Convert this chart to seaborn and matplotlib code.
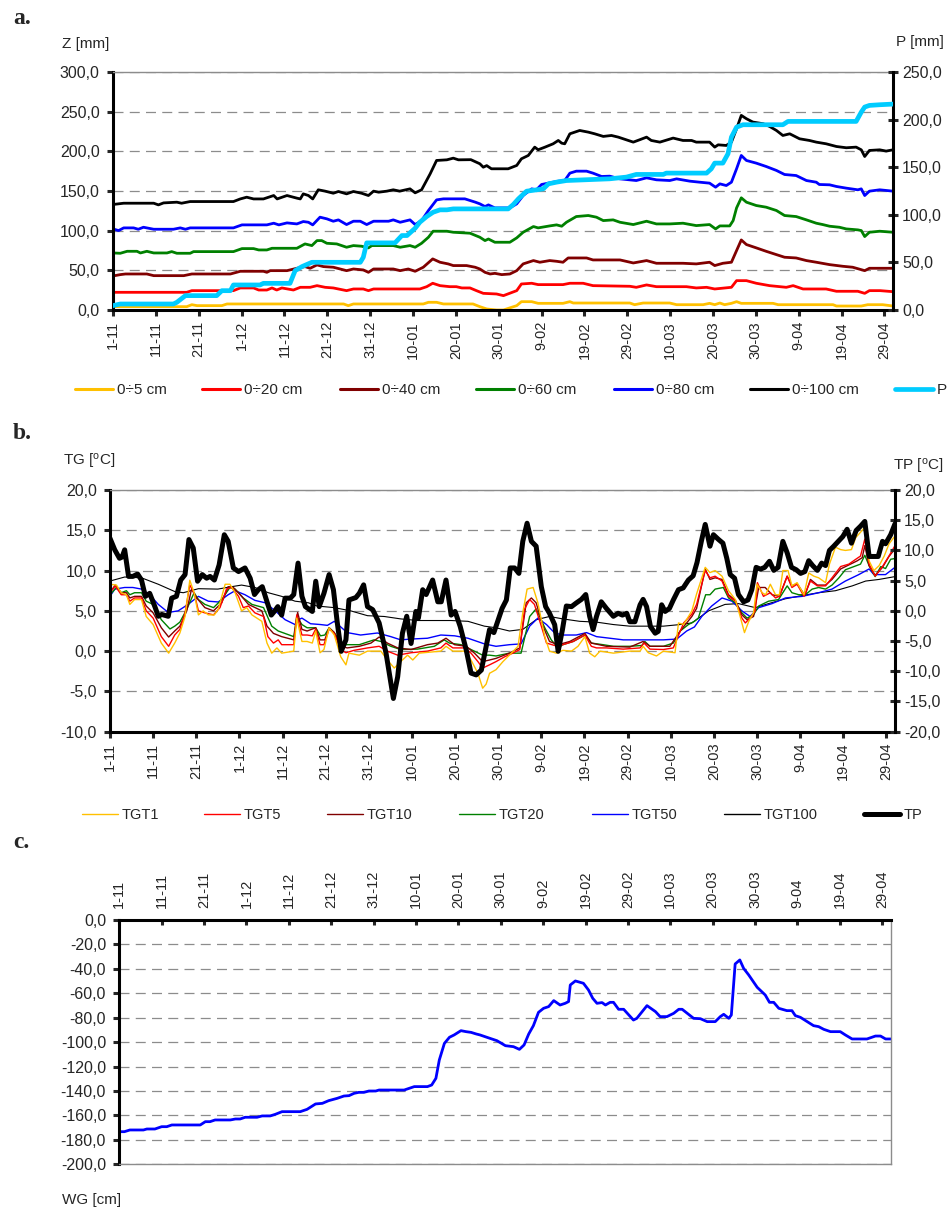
import matplotlib
matplotlib.use("Agg")
import matplotlib.pyplot as plt
from matplotlib.lines import Line2D
from matplotlib.ticker import FuncFormatter, FixedLocator
import seaborn as sns

# ---------------- data ----------------
date_labels = ["1-11", "11-11", "21-11", "1-12", "11-12", "21-12", "31-12", "10-01",
               "20-01", "30-01", "9-02", "19-02", "29-02", "10-03", "20-03", "30-03",
               "9-04", "19-04", "29-04"]
date_ticks = [0, 10, 20, 30, 40, 50, 60, 70, 80, 90, 100, 110, 120, 130, 140, 150, 160, 170, 180]

# panel a: soil water storage Z [mm] (day index, value)
z100 = [(0,133),(2.5,134.6),(9.5,134.6),(10.6,132.5),(11.8,135),(14.9,135.9),(16,134.6),(18,136.7),
        (28.1,136.7),(29.7,140),(31.2,142.2),(32.8,140),(35.1,140),(37.5,144.3),(38.3,140),(40.6,144.3),
        (42.9,141),(43.7,140),(44.4,146.4),(45.6,144.3),(46.6,140),(47.9,151.5),(49.5,149.8),(51.4,147.2),
        (52.6,149.4),(54.5,146.4),(56.1,149.4),(58,147.2),(59.6,144.3),(60.8,149.8),(62,148.5),(63.9,149.8),
        (65.4,151.5),(66.9,149.8),(69.3,152.7),(70.5,147.7),(72,151.5),(74,171.6),(75.5,188.5),(77.9,189.3),
        (79.4,191.4),(80.6,189.3),(83.5,189.5),(85.6,184.3),(86.4,180),(87.2,182),(88.3,178),(92.2,178),
        (94.2,182.2),(95.3,190.6),(96.9,194.8),(98.4,205.3),(99.2,202),(100.8,205.3),(102.7,209.5),
        (103.9,213.7),(104.7,210.3),(105.4,209.5),(106.6,222.1),(108.9,226.3),(110.9,224.2),(112.4,222.1),
        (114.4,218.8),(116.3,220),(117.9,217.9),(121.4,211.6),(122.9,214.6),(124.5,217.9),(125.6,213.7),
        (127.6,211.6),(130.7,216.7),(133,213.7),(135,213.7),(136.1,211.6),(139.2,211.6),(140.4,205.3),
        (141.2,208.2),(143.1,207.4),(144.3,211.6),(145.5,228.4),(146.6,245.3),(147.8,241.1),(149.3,236.9),
        (151.7,234.8),(153.2,231.4),(154.8,226.3),(156.3,220),(157.9,222.1),(160.2,215.8),(162.5,213.7),
        (164.1,211.6),(166.4,209.5),(168.8,206.1),(171.1,204.5),(173.4,205.3),(174.6,201.9),(175.4,193.5),
        (176.5,201.1),(178.9,201.9),(180.4,200.3),(182,201.9)]
z80 = [(0,102.2),(1.3,100.1),(2.5,103.5),(4.8,103.5),(5.9,101.8),(7.1,104.3),(9.5,101.8),(14.1,101.8),
       (15.7,103.5),(16.9,101.8),(18,103.5),(28.1,103.5),(30.1,107.3),(35.9,107.3),(37.5,109.4),(38.7,107.3),
       (40.6,109.8),(42.9,108.5),(44.4,111.5),(45.6,110.6),(46.6,107.3),(48.3,117),(49.9,114.9),(51.4,111.9),
       (52.6,113.6),(54.5,107.7),(56.1,111.9),(57.7,111.9),(59.2,107.7),(60.8,111.9),(64.3,111.9),(65.4,113.6),
       (67,110.6),(69.3,113.6),(70.5,107.7),(72,112.7),(73.6,125.4),(75.5,138.8),(77.1,140.1),(82.1,140.1),
       (84.5,136),(85.6,133.8),(86.8,130.4),(87.6,132.5),(89.1,128.7),(92.6,128.7),(94.2,133.8),(95.7,144.3),
       (97.7,152.7),(98.8,151.5),(100,158.2),(101.9,160.3),(103.9,162.4),(105.4,163.2),(106.6,172.5),
       (108.1,175),(110.5,175),(112,172.5),(114,168.3),(115.9,168.7),(118.3,165.3),(122.1,163.2),
       (124.5,166.6),(126.8,164.1),(129.9,163.2),(131.5,165.3),(134.6,162.4),(136.9,161.1),(139.2,159.9),
       (140.6,154.8),(141.6,159),(143.1,156.9),(144.3,161.1),(145.5,178),(146.6,194.8),(147.8,188.5),
       (150.1,185.1),(152.4,180.9),(154.8,175.9),(156.7,170.8),(159.4,169.5),(161.8,163.2),(164.1,161.1),
       (164.8,158.2),(167.2,157.8),(168.8,155.7),(171.1,153.6),(173.8,151.5),(174.6,152.7),(175.4,144.3),
       (176.5,149.8),(178.9,151.5),(182,149.8)]
z60 = [(0,71.9),(1.7,71.5),(3.3,74),(5.6,74),(6.4,71.9),(7.9,74),(9.5,71.9),(12.6,71.9),(13.7,73.6),
       (14.9,71.5),(18,71.5),(18.8,73.6),(28.1,73.6),(30.1,77.4),(32.8,77.4),(34,75.7),(35.9,75.7),(37.1,77.8),
       (42.9,77.8),(44.8,83.3),(46.4,81.2),(47.6,87.5),(48.7,87.5),(49.9,84.1),(52.2,83.3),(54.5,79.1),
       (56.1,81.2),(58,80.4),(59.6,78.3),(60.4,81.2),(65.4,81.2),(67,79.1),(69.3,81.2),(70.5,79.1),(72,84.1),
       (73.6,91.7),(74.7,99.3),(77.9,99.3),(79.4,98),(83.3,96.8),(85.6,91.7),(86.8,87.5),(87.6,89.5),
       (89.1,85.4),(92.6,85.4),(94.2,90.9),(95.7,98),(98.1,105.2),(99.2,103.5),(101.9,106),(103.5,107.3),
       (104.7,105.6),(105.8,110.6),(108.1,117.8),(110.9,119.1),(112.8,117),(114.4,112.7),(116.7,113.6),
       (118.3,110.6),(121.4,107.7),(124.5,111.9),(126.8,108.5),(129.9,108.5),(133,109.4),(136.1,106.4),
       (139.2,107.7),(140.6,102.2),(141.6,106),(143.9,106),(144.7,112.7),(145.5,128.7),(146.6,141.4),
       (147.8,135.9),(150.1,131.7),(152.4,129.6),(154.8,125.4),(156.7,119.1),(159.4,117.8),(161.8,113.6),
       (164.1,109.4),(165.6,107.7),(167.2,105.6),(169.5,104.3),(171.1,102.2),(173.8,101),(174.6,100.1),
       (175.4,92.6),(176.5,98),(178.9,99.3),(182,98)]
z40 = [(0,42.9),(1.7,44.6),(2.9,45.4),(7.9,45.4),(9.5,43.3),(16.5,43.3),(18.4,45.4),(27.4,45.4),
       (29.7,48.8),(35.1,48.8),(35.9,47.5),(36.7,49.6),(40.6,49.6),(42.9,52.6),(44.8,54.7),(46,52.6),
       (47.6,56.8),(49.1,54.7),(51.4,53.9),(53,51.7),(54.5,49.6),(56.1,51.7),(58.4,50.5),(59.6,47.5),
       (60.8,51.7),(65.4,51.7),(67,49.6),(68.9,51.7),(70.5,48.8),(72.4,53.9),(74.6,64.4),(76.3,60.2),
       (78.2,58.1),(79.4,56),(82.5,56),(84.5,53.9),(85.6,51.7),(86.8,47.5),(88,45.4),(89.1,46.2),(90.7,44.6),
       (92.6,45.4),(94.2,49.6),(95.7,58.1),(98.1,62.3),(99.6,60.2),(101.9,62.3),(103.5,61.4),(105,60.2),
       (106.2,65.6),(110.5,65.6),(112,63.1),(118.3,63.1),(121.4,59.3),(124.5,62.3),(126.8,58.9),(133,58.9),
       (136.1,58.1),(139.2,60.2),(140.4,56),(142.3,58.9),(144.3,60.2),(145.5,74.9),(146.6,88.3),(147.8,82.5),
       (150.1,78.3),(152.4,74),(154.8,69.8),(156.7,66.5),(159.4,65.6),(161.8,62.3),(164.1,60.2),(167.2,57.2),
       (170.3,55.1),(172.6,53.9),(175.4,49.6),(176.5,52.6),(182,52.6)]
z20 = [(0,22.3),(17.2,22.3),(18.4,24.4),(28.1,24.4),(29.7,27.8),(32.8,27.8),(34,25.2),(35.9,25.2),
       (37.1,27.8),(38.2,25.2),(39.4,27.8),(42.1,25.2),(43.7,28.6),(46,28.6),(47.6,30.7),(49.5,28.6),
       (51.4,27.8),(54.5,24.4),(56.1,26.5),(58.4,26.5),(59.6,24.4),(60.8,26.5),(71.6,26.5),(73.2,29.4),
       (74.6,33.7),(76.3,30.7),(78.6,29.4),(80.1,29.4),(81.4,27.8),(83.3,27.8),(84.8,24.4),(86.4,21),
       (89.5,20.2),(91.1,18.1),(94.2,24.4),(95.3,32.8),(97.7,33.7),(99.2,32),(105,32),(106.6,33.7),
       (109.7,33.7),(112,30.7),(120.6,29.9),(122.1,28.6),(124.5,31.6),(126.8,29.4),(133.8,29.4),(136.1,27.8),
       (138.5,28.6),(140.4,26.5),(144.3,28.6),(145.5,37),(147.8,37),(150.1,33.7),(153.2,30.7),(157.1,28.6),
       (158.7,30.7),(161,26.5),(166.4,26.5),(168.8,23.6),(173.8,23.6),(175.4,21),(176.5,24.4),(179,24.4),
       (182,23.1)]
z5 = [(0,4.2),(17.2,4.2),(18.4,6.7),(19.6,5.5),(25.4,5.5),(26.6,7.6),(53.8,7.6),(54.9,5.5),(56.1,7.6),
      (72.4,7.6),(73.6,9.7),(75.5,9.7),(77.1,7.6),(84,7.6),(85.6,4.2),(87.2,1.3),(89.5,0),(91.1,0),(93,3.4),
      (94.2,5.5),(95.3,10.5),(97.7,10.5),(99.2,8.4),(105,8.4),(106.6,10.5),(107.4,8.8),(120.6,8.8),
      (121.7,6.7),(123.7,8.8),(129.9,8.8),(131.5,6.7),(137.7,6.7),(139.2,8.4),(140.4,6.7),(141.6,8.8),
      (142.7,6.7),(144.3,8.4),(145.5,10.5),(146.6,8.4),(154,8.4),(155.2,6.7),(168,6.7),(168.8,5),(174.6,5),
      (176.1,6.7),(179.6,6.7),(182,5)]
precip = [(0,4.6),(1.7,6.3),(14.1,6.3),(14.9,8.1),(16.9,15.1),(24.2,15.1),(25.4,20.3),(27.4,20.3),
          (28.1,26.3),(34.3,26.3),(35.1,28),(41.3,28),(42.5,41.4),(44.1,45.6),(46.4,50.1),(57.7,50.1),
          (58.4,55.4),(59.2,70.5),(65.8,70.5),(67.4,78.2),(68.6,78.2),(70.5,85.9),(71.6,92.2),(73.2,98.2),
          (74.7,102.7),(76.3,105.2),(77.9,105.2),(79.4,106.2),(92.2,106.2),(93.4,110.8),(94.6,116.8),
          (96.5,124.8),(98.8,126.2),(100.4,127.3),(101.6,132.5),(103.5,134.3),(105.8,136),(115.9,137.8),
          (119.8,139.6),(122.1,142.4),(128.4,142.4),(129.1,143.8),(138.5,143.8),(139.6,148.3),(140.4,154.3),
          (142.3,154.3),(143.5,164.1),(144.3,181.6),(145.5,192.1),(147,194.6),(156.3,194.6),(157.5,198.1),
          (173.4,198.1),(174.6,207.9),(175.4,213.2),(176.5,214.9),(178.9,215.6),(182,216.3)]

# panel b: soil temperature TG and air temperature TP [oC]
tp = [(0,12.0),(1.1,10.1),(2.2,8.7),(2.8,8.9),(3.4,10.1),(4.3,5.7),(5.3,5.7),(6.4,6.1),(7.3,5.1),(8.2,2.4),
      (9.2,2.9),(10.4,0.7),(11.2,-0.9),(12,-0.6),(13.5,-0.9),(14.3,2.1),(15.4,2.4),(16.4,5.1),(17.4,6.0),
      (18.3,11.8),(19.3,10.4),(20.3,4.9),(21.4,6.0),(22.4,5.4),(23.2,5.7),(24.2,5.1),(25.3,7.6),(26.5,12.6),
      (27.4,11.5),(28.6,7.1),(29.8,6.5),(31.3,7.1),(32.5,5.4),(33.5,2.7),(34.4,3.5),(35.3,4.0),(36.4,1.5),
      (37.4,-0.7),(38.1,-0.1),(38.9,0.7),(39.8,-0.7),(40.6,2.1),(41.8,2.1),(42.6,2.7),(43.6,7.9),(44.5,2.4),
      (45.3,0.7),(46.9,-0.1),(47.7,4.9),(48.5,0.7),(49.6,2.9),(50.8,6.0),(51.8,3.5),(52.7,-2.0),(53.6,-6.7),
      (54.7,-4.8),(55.4,1.8),(57,2.2),(57.8,2.9),(58.8,4.3),(59.7,0.7),(60.9,0.2),(62.4,-2.0),(64,-7.0),
      (65,-11.4),(65.7,-14.5),(66.7,-10.9),(67.8,-3.7),(68.8,-0.9),(69.8,-5.4),(70.9,-0.1),(71.5,-1.2),
      (72.5,3.5),(73.3,2.7),(74.8,5.1),(76,1.5),(76.8,1.5),(77.9,5.1),(79.1,-0.7),(80,-0.1),(81.2,-2.6),
      (82.6,-6.5),(83.7,-10.3),(84.9,-10.6),(86.1,-9.8),(87.2,-5.9),(88,-3.1),(89,-3.6),(90.9,0.4),
      (91.9,1.8),(92.8,7.1),(93.8,7.1),(94.8,6.2),(95.7,11.5),(96.7,14.5),(97.7,11.5),(98.8,10.7),(100,4.0),
      (101,0.7),(101.9,-0.4),(103.1,-2.3),(103.9,-6.7),(104.9,-3.1),(105.8,0.8),(107,0.7),(108.1,1.3),
      (109.3,1.9),(110.3,2.7),(111.2,-0.9),(112,-3.1),(112.8,-0.9),(113.9,1.5),(115.1,0.4),(116.7,-0.9),
      (117.8,-0.4),(118.8,-0.7),(119.8,-0.4),(120.5,-1.8),(121.7,-1.8),(122.9,1.0),(123.6,1.9),(124.4,0.7),
      (125.3,-2.6),(126.4,-3.7),(127.1,-3.4),(127.9,1.0),(128.7,-0.1),(129.7,0.4),(130.6,1.8),(131.8,3.5),
      (132.9,3.8),(134.1,5.1),(135.2,5.8),(136.1,8.0),(137.1,11.5),(138,14.3),(139.1,10.7),(139.9,12.6),
      (141.1,11.8),(142.1,11.2),(143,8.7),(143.8,6.0),(144.8,5.4),(145.7,2.7),(146.9,1.5),(147.9,1.8),
      (148.8,3.5),(149.8,7.2),(150.8,6.9),(151.8,7.2),(152.9,8.2),(153.9,6.7),(154.9,7.2),(156,11.5),
      (157,9.6),(158,7.2),(159.1,6.8),(160.1,6.2),(161.1,6.5),(162,8.3),(162.9,7.5),(164,6.7),(165,7.9),
      (165.9,7.5),(166.8,10.0),(167.8,10.7),(169,11.6),(169.9,12.3),(170.9,13.5),(171.9,11.2),(173,13.3),
      (174,14.0),(175,14.8),(176,9.0),(177.1,9.0),(178.1,9.0),(179.1,11.5),(179.8,11.1),(181,12.6),(182,14.4)]
tgt100 = [(0,8.7),(3.4,9.2),(7.3,9.1),(11.2,8.3),(15,7.4),(17,7.25),(20.5,7.75),(25,7.7),(28.2,8.0),
          (30.5,8.2),(33.6,7.9),(36.7,7.25),(39.8,6.8),(42.9,6.2),(46,6.0),(48,5.6),(52,5.4),(55.8,5.0),
          (59.7,4.4),(63.6,4.3),(67.4,4.0),(71.3,3.8),(75.2,3.8),(79.1,3.8),(83,3.7),(86.8,3.1),(89.5,2.9),
          (92.6,2.5),(95.7,2.7),(98.8,3.9),(101.9,4.3),(105,4.0),(108.9,3.7),(112.8,3.6),(116.7,3.3),
          (120.5,3.1),(124.4,3.1),(128.3,3.1),(132.2,3.3),(134.9,3.5),(138.8,5.0),(142.6,5.8),(145.7,5.9),
          (149.6,5.4),(152.7,5.9),(156.6,6.5),(160.5,6.9),(164.3,7.25),(168.2,7.5),(172.1,8.1),(175.2,8.7),
          (178.3,8.9),(182,9.25)]
tgt50 = [(0,6.8),(1.1,7.7),(3.4,7.9),(5.3,7.9),(7.3,7.7),(9.2,7.0),(11.2,5.8),(13.5,4.8),(15.8,5.0),
         (18.1,5.8),(20.5,6.8),(22.8,6.2),(25.1,6.1),(27.4,7.0),(29,7.5),(31.3,7.0),(33.6,6.3),(36,6.0),
         (38.3,5.0),(40.6,3.9),(42.9,3.3),(43.7,3.9),(44.5,4.1),(46.5,3.4),(48.8,3.3),(50.4,3.2),(52,3.7),
         (55,2.3),(58.1,2.0),(62,2.25),(65.1,1.8),(67.4,1.4),(69.8,1.5),(73.6,1.6),(76.7,2.0),(79.9,1.9),
         (83,1.6),(86.8,0.9),(89.5,0.6),(92.6,0.8),(95.3,0.9),(97.3,3.1),(99.2,4.1),(101.2,3.3),(103.1,2.25),
         (105,2.0),(108.1,2.0),(110.5,2.3),(112.8,1.8),(115.9,1.6),(119,1.4),(123.6,1.4),(128.3,1.4),
         (131.4,1.5),(133.7,2.5),(135.5,3.0),(137.2,4.3),(139.5,5.6),(141.9,6.6),(144.2,6.2),(146.5,5.0),
         (148.4,4.3),(150.4,5.4),(153.5,5.9),(156.6,6.6),(160.5,6.8),(164.3,7.25),(167.4,7.7),(170.5,8.7),
         (173.6,9.5),(176,10.2),(177.1,9.5),(179.8,9.5),(182,10.4)]
tgt20 = [(0,7.0),(1.5,7.9),(2.6,7.25),(3.8,7.5),(4.6,7.0),(5.7,7.25),(7.3,7.25),(8.4,6.2),(10,5.8),
         (11.9,3.9),(13.9,2.75),(15,3.1),(16.2,3.6),(17.8,5.2),(19.5,7.25),(20.5,6.4),(22,5.8),(24,5.4),
         (25.9,6.4),(27.8,7.9),(29,7.7),(30.9,6.6),(32.9,5.8),(35.6,5.4),(37.5,3.1),(39,2.5),(42.6,1.8),
         (43.3,4.3),(44.5,3.3),(45.7,2.9),(47.7,2.9),(48.8,1.9),(49.8,2.0),(50.8,2.9),(52,2.3),(53.5,1.0),
         (54.3,0.8),(57.8,0.8),(61.2,1.4),(62.8,1.2),(65.1,0.6),(67.4,0.2),(71.3,0.25),(75.2,0.6),(77.5,1.4),
         (78.7,1.0),(81.4,0.8),(83.7,0.2),(86.4,-0.5),(88,-0.5),(89.5,-0.6),(92.6,-0.25),(95.3,-0.25),
         (97.3,4.3),(98.8,5.25),(100.8,2.9),(102.3,1.4),(103.9,0.4),(105,0.8),(107.4,1.2),(110.1,2.0),
         (111.6,1.0),(114.3,0.8),(116.7,0.6),(120.5,0.6),(123.3,0.7),(124,1.2),(125.2,0.6),(128.3,0.6),
         (130.6,1.0),(132.2,2.5),(134.1,3.3),(135.5,3.7),(136.4,4.1),(138.1,7.0),(139.1,7.0),(140.3,7.7),
         (142.2,7.9),(143.4,6.6),(145,6.0),(146.5,4.75),(147.7,4.1),(149.2,4.5),(150.4,5.6),(152.7,6.2),
         (155,6.4),(157,8.1),(158.1,7.25),(159.7,7.0),(161.2,7.0),(162.8,7.7),(164.3,7.9),(165.9,7.7),
         (167.4,8.2),(169,9.1),(170.5,10.1),(172.5,10.5),(174,10.8),(175,11.9),(176,10.6),(177.4,9.25),
         (178.7,10.5),(179.8,10.25),(181,11.4),(182,11.5)]
tgt10 = [(0,7.25),(1.2,8.2),(2.6,7.25),(3.8,7.25),(4.6,6.6),(5.7,6.8),(7.3,6.8),(8.4,5.6),(10,4.75),
         (11.9,2.9),(13.6,1.75),(15,2.5),(16.2,3.1),(17.8,5.0),(18.9,7.7),(20.1,6.6),(22,5.4),(24,5.0),
         (25.9,6.0),(27.4,8.0),(28.6,7.9),(30.2,7.0),(32.1,5.8),(35.2,5.0),(36.4,3.1),(37.9,2.2),(39.8,1.8),
         (42.6,1.4),(43.5,4.8),(44.5,2.7),(45.7,2.5),(47.7,2.9),(48.7,1.4),(49.8,1.4),(50.8,2.9),(52,2.3),
         (53.5,0.6),(55,0.4),(57.8,0.6),(60.5,1.0),(62.4,1.75),(64.3,1.0),(66.7,0.4),(69.8,0.2),(73.6,0.8),
         (76,1.0),(77.9,1.6),(79.9,0.8),(82.6,0.6),(84.5,-0.25),(86.4,-1.3),(88,-1.1),(89.5,-0.9),
         (92.6,-0.25),(95,0.4),(96.5,6.0),(97.7,6.6),(98.8,6.0),(100.4,3.1),(101.9,1.2),(103.9,0.8),
         (106.6,1.2),(110.1,2.2),(111.6,1.0),(115.1,0.6),(120.5,0.5),(123.6,1.2),(125.2,0.6),(129.8,0.6),
         (132.2,2.5),(134.9,4.3),(136,5.3),(138,10.2),(139.1,8.9),(140.3,9.1),(141.9,8.9),(143.4,7.0),
         (145,6.3),(146.5,4.5),(147.7,3.9),(149.2,4.3),(150.4,7.9),(151.9,7.9),(153.5,7.0),(155.2,6.8),
         (157,9.3),(158.1,8.1),(159.3,8.4),(161.1,6.9),(162.4,8.9),(164,8.2),(165.9,8.2),(167.4,8.9),
         (169.4,10.2),(171.3,10.7),(173.2,11.2),(174.4,11.6),(175,13.1),(176,10.6),(177.4,9.4),(179.1,10.4),
         (180.6,11.75),(182,12.7)]
tgt5 = [(0,7.25),(1.2,8.1),(2.6,7.0),(3.8,7.0),(4.6,6.2),(5.7,6.6),(7.3,6.6),(8.4,5.0),(10,4.1),(11.9,1.8),
        (13.6,0.6),(15,2.0),(16.2,2.7),(17.4,4.75),(18.5,8.2),(19.5,7.25),(20.5,5.0),(22,4.75),(24,4.5),
        (25.5,5.4),(27,7.7),(28.2,7.9),(29.8,6.8),(30.9,5.4),(32.1,5.6),(33.6,4.75),(35.6,4.3),(36.6,1.8),
        (37.9,1.0),(39,1.4),(39.8,0.8),(42.6,0.8),(43.3,4.5),(44.5,2.0),(45.7,2.0),(46.9,1.9),(47.7,2.75),
        (48.7,0.8),(49.6,0.8),(50.8,2.75),(52,2.2),(53.5,0.2),(54.7,-0.2),(56.6,0.1),(59.7,0.4),(62.4,0.6),
        (64.3,0),(66.7,-0.5),(69.8,-0.2),(73.6,0),(76.7,0.4),(77.9,1.0),(79.5,0.4),(82.2,0.4),(83.7,-0.25),
        (85.3,-1.3),(86.4,-2.1),(88,-1.7),(89.5,-1.3),(91.5,-0.7),(93.4,-0.25),(95,0.2),(96.1,5.2),(97.3,6.4),
        (98.4,5.8),(100,3.1),(101.2,1.0),(103.1,0.7),(105,0.8),(107.4,1.2),(110.1,2.0),(111.6,0.6),(112.8,0.4),
        (115.1,0.4),(119,0.25),(122.9,0.4),(123.8,1.0),(125.2,0.25),(128.3,0.2),(130.6,0.4),(133,3.5),
        (134.9,4.6),(136,5.8),(138,10.0),(139.1,9.1),(140.3,9.3),(141.9,8.7),(143.4,6.8),(145,6.2),(146.5,4.1),
        (147.3,3.5),(148.4,4.1),(149.6,5.0),(150.1,8.5),(151.5,6.8),(153.1,7.25),(154.3,6.6),(155.2,6.8),
        (157,9.3),(158.1,7.9),(159.3,8.3),(160.9,6.8),(162.4,8.7),(164,8.1),(165.9,8.1),(167.4,9.1),
        (169.4,10.5),(171.3,10.8),(172.9,11.4),(174,11.8),(175,13.9),(176,10.8),(177.4,9.3),(179.1,10.5),
        (180.6,11.8),(182,13.1)]
tgt1 = [(0,8.3),(1.5,8.2),(2.6,7.25),(3.8,7.0),(4.6,5.8),(5.7,6.4),(7.3,6.4),(8.4,4.3),(10,3.3),(11.9,1.0),
        (13.6,-0.25),(15,1.0),(16.2,2.25),(17.4,4.3),(18.5,8.8),(19.5,7.25),(20.5,4.5),(21.6,5.0),(22.8,4.5),
        (24.2,4.5),(25.1,5.2),(26.7,8.3),(27.8,8.3),(29,7.25),(30.5,5.0),(31.7,5.4),(32.9,4.5),(35.2,3.7),
        (36.4,1.0),(37.5,-0.25),(38.7,0.4),(39.8,-0.25),(42.6,0.0),(43.3,4.1),(44.5,1.2),(45.7,1.2),(46.9,1.0),
        (47.7,2.5),(48.7,-0.2),(49.6,0.2),(50.8,2.9),(52,2.0),(53.5,-0.7),(54.7,-1.7),(55.4,-0.25),(57.8,-0.5),
        (59.7,0),(62.8,0),(64.3,-1.1),(65.9,-2.1),(67.4,-1.3),(69,-0.5),(70.2,-1.1),(71.7,-0.25),(76.7,0),
        (77.9,0.6),(79.5,0),(82.2,0),(83.7,-1.1),(85.3,-2.75),(86.4,-4.6),(87.2,-4.1),(88,-2.75),(89.5,-2.3),
        (91.1,-1.3),(92.6,-0.5),(94.6,0.6),(95.7,4.75),(96.7,7.7),(98.1,7.9),(99.2,6.0),(100.8,1.8),(101.9,0),
        (103.5,-0.25),(105,0.1),(107,0),(108.5,0.6),(110.1,1.8),(111.2,-0.25),(112.4,-0.7),(113.6,0),
        (116.7,-0.25),(120.5,0),(122.9,0),(123.6,0.6),(124.8,-0.2),(126.7,-0.6),(128.3,0),(131,-0.2),
        (131.8,3.5),(133,3.3),(134.9,5.0),(136,7.1),(138,10.4),(139.1,9.75),(140.3,10.0),(141.9,9.3),
        (143.4,7.5),(145,6.4),(146.1,4.3),(147.1,2.3),(148.1,3.7),(149.2,4.75),(150,8.3),(151.2,7.25),
        (152,7.0),(153.1,8.3),(154.3,7.0),(155.2,7.0),(156,10.0),(157.2,10.0),(158.1,8.1),(159.3,8.5),
        (160.9,7.0),(162,9.7),(163.2,9.3),(164.3,9.1),(165.9,8.5),(166.8,10.8),(168.2,12.9),(169.4,12.6),
        (170.5,12.5),(171.9,12.6),(172.9,14.1),(174,14.75),(175,15.4),(176,11.2),(177.1,10.0),(178.3,10.6),
        (179.5,11.8),(180.6,13.3),(182,14.3)]

# panel c: groundwater level WG [cm]
wg = [(0,-173.3),(1.2,-173.3),(2.5,-171.9),(5.7,-171.9),(6.5,-171.1),(8.4,-171.1),(10,-169.2),(11.2,-169.2),
      (12.4,-167.8),(19.1,-167.8),(20.3,-165.1),(21.4,-165.1),(22.6,-163.7),(26.2,-163.7),(27.4,-162.9),
      (28.5,-162.9),(29.7,-161.5),(32.5,-161.5),(33.7,-160.4),(35.6,-160.4),(36.8,-159.1),(38.4,-156.9),
      (42.7,-156.9),(44.3,-155),(46.3,-150.6),(47.9,-150.1),(49.4,-147.9),(51.4,-146),(53,-144.1),
      (54.2,-143.8),(55.4,-141.9),(56.5,-141.1),(57.7,-141.1),(58.9,-140),(60.5,-140),(61.3,-139.2),
      (67.2,-139.2),(68.4,-137.8),(69.6,-136.4),(72.7,-136.4),(73.7,-135.1),(74.7,-129.6),(75.5,-114.6),
      (76.7,-101),(77.9,-96),(79,-94.1),(80.6,-90.6),(81.8,-91.4),(83,-92),(84.2,-93.3),(85.1,-94.1),
      (86.7,-96),(89.1,-98.8),(91.1,-102.9),(93,-103.7),(94.4,-105.9),(95.5,-102.3),(96.6,-93.3),
      (97.7,-86.5),(98.9,-75.6),(100.1,-72.3),(101.3,-70.9),(102.5,-66),(104,-69.6),(105.2,-68.2),
      (106,-66.8),(106.4,-53.2),(107.6,-49.9),(109.5,-51.8),(110.7,-57.3),(111.7,-64.1),(112.7,-68.2),
      (113.9,-67.6),(114.7,-69.6),(115.8,-67.4),(116.6,-67.4),(117.8,-73.1),(119,-73.1),(121.3,-81.9),
      (122.1,-80.5),(124.5,-70.1),(126.5,-75),(127.6,-79.1),(129.2,-79.1),(130.8,-76.4),(132,-73.1),
      (132.8,-73.1),(135.5,-80.5),(137.1,-80.8),(138.7,-83.2),(140.6,-83.2),(141.8,-79.1),(142.6,-77.2),
      (143.8,-80.5),(144.4,-77.8),(145.3,-36),(146.4,-32.7),(147.3,-39.6),(148.5,-45),(150.5,-55.1),
      (152.4,-61.4),(153.4,-67.4),(154.4,-67.4),(155.6,-72.3),(157.5,-74.2),(158.7,-74.2),(159.5,-78.3),
      (160.7,-79.7),(163.8,-86.5),(165,-87.3),(166.2,-89.5),(167.8,-91.4),(170.1,-91.4),(171.3,-94.1),
      (172.9,-97.4),(176.4,-97.4),(178.4,-95),(179.6,-95),(180.8,-97.4),(182,-97.4)]

labels_a = ["0÷5 cm", "0÷20 cm", "0÷40 cm", "0÷60 cm", "0÷80 cm", "0÷100 cm", "P"]
labels_b = ["TGT1", "TGT5", "TGT10", "TGT20", "TGT50", "TGT100", "TP"]

# ---------------- style ----------------
sns.set_style("white")
plt.rcParams["font.family"] = ["Liberation Sans", "DejaVu Sans"]
plt.rcParams["mathtext.fontset"] = "custom"
plt.rcParams["mathtext.rm"] = "Liberation Sans"

W, H = 948, 1211
fig = plt.figure(figsize=(W / 100, H / 100), dpi=100)

C_YEL, C_RED, C_DRED, C_GRN, C_BLU, C_BLK, C_CYN = "#FFC000", "#FF0000", "#800000", "#008000", "#0000FF", "#000000", "#00CCFF"
GRID = "#8c8c8c"
AXW = 2.2


def ax_at(left, top, right, bottom):
    return fig.add_axes([left / W, 1 - bottom / H, (right - left) / W, (bottom - top) / H])


def comma(v, _pos=None):
    return f"{v:.1f}".replace(".", ",")


def draw(ax, pts, color, lw, z=2):
    xs = [p[0] for p in pts]
    ys = [p[1] for p in pts]
    sns.lineplot(x=xs, y=ys, ax=ax, color=color, linewidth=lw, estimator=None, sort=False,
                 legend=False, zorder=z)


def style_x(ax, top=False):
    ax.set_xlim(0, 182)
    ax.xaxis.set_major_locator(FixedLocator(date_ticks))
    ax.set_xticklabels(date_labels, rotation=90, fontsize=10.5)
    if top:
        ax.xaxis.tick_top()
        ax.tick_params(axis="x", direction="in", length=3.5, width=AXW, pad=9, top=True, bottom=False)
    else:
        ax.tick_params(axis="x", direction="out", length=4, width=AXW, pad=4, bottom=True)


def style_yleft(ax, lo, hi, step):
    ax.set_ylim(lo, hi)
    ax.yaxis.set_major_locator(FixedLocator(list(range(lo, hi + 1, step))))
    ax.yaxis.set_major_formatter(FuncFormatter(comma))
    ax.tick_params(axis="y", direction="out", length=4.5, width=AXW, pad=5, labelsize=11.5, left=True)
    ax.yaxis.grid(True, color=GRID, linestyle=(0, (8, 5)), linewidth=0.9)
    ax.set_axisbelow(True)
    ax.set_xlabel("")
    ax.set_ylabel("")


def legend_entry(handle, label, x, y, fs):
    fig.legend([handle], [label], loc="center left", bbox_to_anchor=(x / W, 1 - y / H),
               frameon=False, borderpad=0, borderaxespad=0, handlelength=2.5,
               handletextpad=0.25, fontsize=fs)


# ---------------- panel a ----------------
axa = ax_at(113, 72, 893, 310)
for pts, c in [(z5, C_YEL), (z20, C_RED), (z40, C_DRED), (z60, C_GRN), (z80, C_BLU), (z100, C_BLK)]:
    draw(axa, pts, c, 2.0)
style_yleft(axa, 0, 300, 50)
style_x(axa)
for s in ["left", "bottom"]:
    axa.spines[s].set_linewidth(AXW)
    axa.spines[s].set_color("black")
axa.spines["top"].set_color(GRID)
axa.spines["top"].set_linewidth(1.0)
axa.spines["right"].set_visible(False)

axa2 = axa.twinx()
draw(axa2, precip, C_CYN, 3.4, z=3)
axa2.set_ylim(0, 250)
axa2.yaxis.set_major_locator(FixedLocator(list(range(0, 251, 50))))
axa2.yaxis.set_major_formatter(FuncFormatter(comma))
axa2.tick_params(axis="y", direction="inout", length=7, width=AXW, pad=3, labelsize=11.5)
axa2.set_ylabel("")
for s in ["left", "bottom", "top"]:
    axa2.spines[s].set_visible(False)
axa2.spines["right"].set_linewidth(AXW)
axa2.spines["right"].set_color("black")

fig.text(13 / W, 1 - 18 / H, "a.", fontsize=17, fontweight="bold", family="Liberation Serif", va="center")
fig.text(62 / W, 1 - 44 / H, "Z [mm]", fontsize=11, va="center")
fig.text(896 / W, 1 - 42 / H, "P [mm]", fontsize=11, va="center")

cols_a = [C_YEL, C_RED, C_DRED, C_GRN, C_BLU, C_BLK, C_CYN]
xs_a = [75, 202, 340, 476, 614, 750, 895]
for c, lab, x in zip(cols_a, labels_a, xs_a):
    lw = 3.4 if lab == "P" else 2.2
    legend_entry(Line2D([], [], color=c, lw=lw), lab, x, 390, 11)

# ---------------- panel b ----------------
axb = ax_at(110, 490, 895, 731.7)
for pts, c, lw in [(tgt100, C_BLK, 0.8), (tgt50, C_BLU, 1.0), (tgt20, C_GRN, 1.0),
                   (tgt10, C_DRED, 1.0), (tgt5, C_RED, 1.0), (tgt1, C_YEL, 1.0)]:
    draw(axb, pts, c, lw)
style_yleft(axb, -10, 20, 5)
style_x(axb)
for s in ["left", "bottom"]:
    axb.spines[s].set_linewidth(AXW)
    axb.spines[s].set_color("black")
axb.spines["top"].set_color(GRID)
axb.spines["top"].set_linewidth(1.0)
axb.spines["right"].set_visible(False)

axb2 = axb.twinx()
draw(axb2, tp, C_BLK, 3.6, z=3)
axb2.set_ylim(-20, 20)
axb2.yaxis.set_major_locator(FixedLocator(list(range(-20, 21, 5))))
axb2.yaxis.set_major_formatter(FuncFormatter(comma))
axb2.tick_params(axis="y", direction="inout", length=7, width=AXW, pad=3, labelsize=11.5)
axb2.set_ylabel("")
for s in ["left", "bottom", "top"]:
    axb2.spines[s].set_visible(False)
axb2.spines["right"].set_linewidth(AXW)
axb2.spines["right"].set_color("black")

fig.text(13 / W, 1 - 434 / H, "b.", fontsize=17, fontweight="bold", family="Liberation Serif", va="center")
fig.text(63 / W, 1 - 462 / H, "TG [$\\mathregular{^{o}}$C]", fontsize=11, va="center")
fig.text(893 / W, 1 - 466 / H, "TP [$\\mathregular{^{o}}$C]", fontsize=11, va="center")

cols_b = [C_YEL, C_RED, C_DRED, C_GRN, C_BLU, C_BLK, C_BLK]
xs_b = [82, 204, 327, 459, 592, 724, 864]
for c, lab, x in zip(cols_b, labels_b, xs_b):
    lw = 3.6 if lab == "TP" else 1.0
    legend_entry(Line2D([], [], color=c, lw=lw), lab, x, 815, 10.5)

# ---------------- panel c ----------------
axc = ax_at(119.3, 920, 890.7, 1164.3)
draw(axc, wg, C_BLU, 2.0)
style_yleft(axc, -200, 0, 20)
style_x(axc, top=True)
for s in ["left", "top"]:
    axc.spines[s].set_linewidth(AXW)
    axc.spines[s].set_color("black")
for s in ["right", "bottom"]:
    axc.spines[s].set_color(GRID)
    axc.spines[s].set_linewidth(1.0)

fig.text(13 / W, 1 - 842 / H, "c.", fontsize=17, fontweight="bold", family="Liberation Serif", va="center")
fig.text(62 / W, 1 - 1200 / H, "WG [cm]", fontsize=11, va="center")

fig.savefig("out.png", dpi=100)
